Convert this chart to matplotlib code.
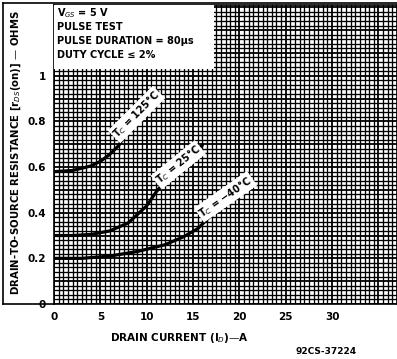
import numpy as np
import matplotlib
matplotlib.use("Agg")
import matplotlib.pyplot as plt
from matplotlib.patches import Rectangle

# curves: drain current (A) vs rDS(on) (ohms)
x_125 = [0, 2, 4, 5, 6, 7, 8, 9, 10, 11.2]
r_125 = [0.58, 0.585, 0.605, 0.625, 0.655, 0.695, 0.765, 0.83, 0.88, 0.93]

x_25 = [0, 2, 4, 6, 8, 10, 11, 12, 13, 14, 15, 16]
r_25 = [0.30, 0.30, 0.305, 0.32, 0.355, 0.43, 0.49, 0.54, 0.59, 0.63, 0.665, 0.695]

x_m40 = [0, 3, 6, 9, 12, 14, 15.5, 17, 18.5, 20, 21.1]
r_m40 = [0.20, 0.20, 0.21, 0.23, 0.26, 0.295, 0.33, 0.39, 0.45, 0.50, 0.545]

curve_labels = ["T$_C$ = 125°C", "T$_C$ = 25°C", "T$_C$ = −40°C"]
label_pos = [(8.9, 0.83), (13.4, 0.61), (18.5, 0.47)]
label_rot = [45, 39, 35]

x_ticks = [0, 5, 10, 15, 20, 25, 30]
y_ticks = [0, 0.2, 0.4, 0.6, 0.8, 1]
y_ticklabels = ["0", "0.2", "0.4", "0.6", "0.8", "1"]

conditions = ["V$_{GS}$ = 5 V", "PULSE TEST", "PULSE DURATION = 80µs", "DUTY CYCLE ≤ 2%"]

W, H = 397, 359
fig = plt.figure(figsize=(W / 100, H / 100), dpi=100)
ax = fig.add_axes([54 / W, 1 - 304 / H, 343 / W, 299 / H])
ax.set_xlim(0, 37)
ax.set_ylim(0, 1.31)

# graph-paper grid
for gx in np.arange(0, 37.01, 0.5):
    heavy = abs(gx / 5 - round(gx / 5)) < 1e-6
    ax.axvline(gx, color="black", lw=1.3 if heavy else 0.95, zorder=1)
for gy in np.arange(0, 1.311, 0.02):
    heavy = abs(gy / 0.1 - round(gy / 0.1)) < 1e-6
    ax.axhline(gy, color="black", lw=1.3 if heavy else 0.95, zorder=1)

# condition box (white, covers the grid)
ax.add_patch(Rectangle((0, 1.03), 17.3, 0.3, facecolor="white", edgecolor="none", zorder=3))
for i, line in enumerate(conditions):
    ax.text(0.35, 1.275 - i * 0.062, line, fontsize=7, fontweight="bold",
            ha="left", va="center", zorder=4)

for xs, ys in [(x_125, r_125), (x_25, r_25), (x_m40, r_m40)]:
    ax.plot(xs, ys, color="black", lw=2.3, solid_capstyle="round", zorder=5)

for txt, (lx, ly), rot in zip(curve_labels, label_pos, label_rot):
    ax.text(lx, ly, txt, fontsize=7, fontweight="bold", rotation=rot,
            rotation_mode="anchor", ha="center", va="center", zorder=6,
            bbox=dict(boxstyle="square,pad=0.15", facecolor="white", edgecolor="none"))

ax.set_xticks(x_ticks)
ax.set_yticks(y_ticks)
ax.set_yticklabels(y_ticklabels)
ax.tick_params(length=0, labelsize=7.5, pad=6)
for lab in ax.get_xticklabels() + ax.get_yticklabels():
    lab.set_fontweight("bold")
for s in ax.spines.values():
    s.set_linewidth(1.2)

ax.set_xlabel("DRAIN CURRENT (I$_D$)—A", fontsize=7.5, fontweight="bold")
ax.xaxis.set_label_coords((179 - 54) / 343, -(331 - 304) / 299)
fig.text(16 / W, 1 - 152 / H, "DRAIN-TO-SOURCE RESISTANCE [r$_{DS}$(on)] — OHMS",
         rotation=90, fontsize=7.3, fontweight="bold", ha="center", va="center")
fig.text(326 / W, 1 - 352 / H, "92CS-37224", fontsize=6.5, fontweight="bold",
         ha="center", va="center")

# outer frame around label area
fig.add_artist(plt.Line2D([3 / W, 3 / W], [1 - 3 / H, 1 - 304 / H], color="black", lw=1.2))
fig.add_artist(plt.Line2D([3 / W, 1], [1 - 3 / H, 1 - 3 / H], color="black", lw=1.2))
fig.add_artist(plt.Line2D([3 / W, 54 / W], [1 - 304 / H, 1 - 304 / H], color="black", lw=1.2))

fig.savefig("out.png", dpi=100)
